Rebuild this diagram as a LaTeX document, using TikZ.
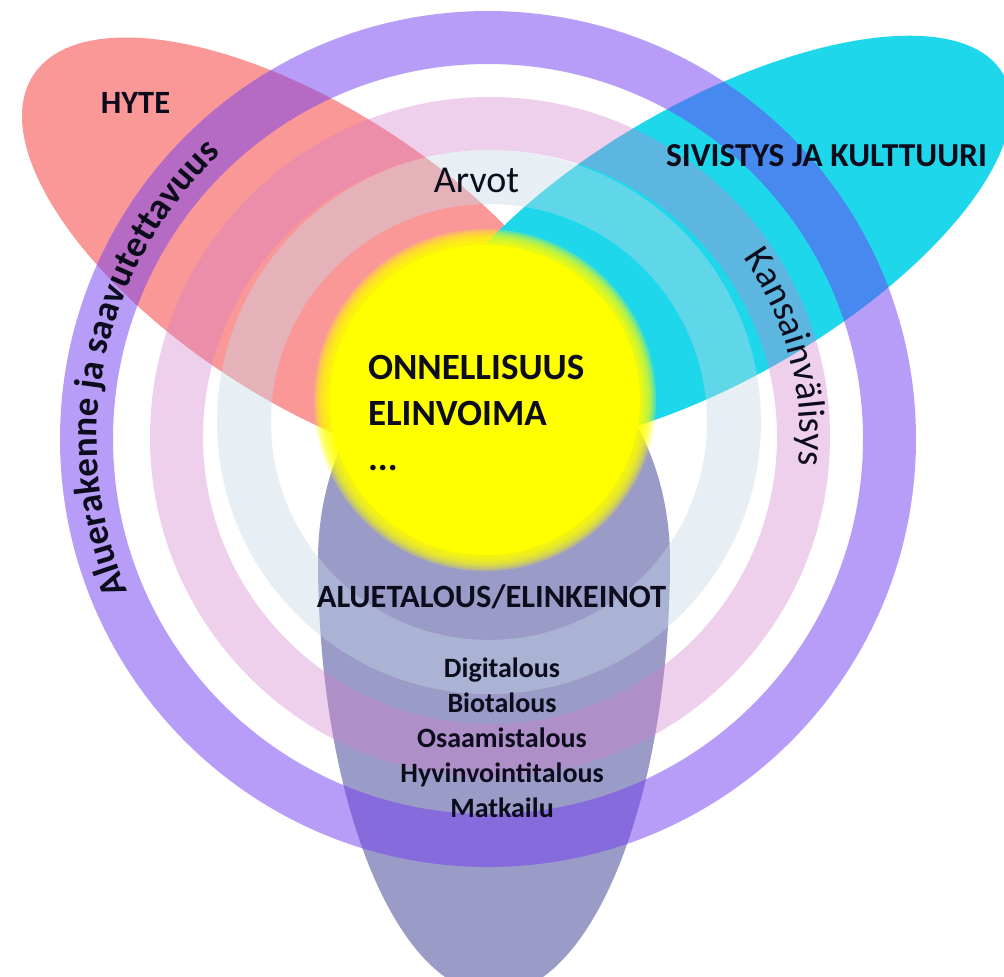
\documentclass[tikz,border=0pt]{standalone}
\usepackage{fontspec}
\setmainfont{Carlito}
\usetikzlibrary{decorations.text}
\definecolor{petalred}{RGB}{250,152,152}
\definecolor{petalcyan}{RGB}{30,215,235}
\definecolor{petallav}{RGB}{155,155,200}
\definecolor{ringpurple}{RGB}{113,61,241}
\definecolor{ringpink}{RGB}{212,121,201}
\definecolor{ringgray}{RGB}{197,217,232}
\definecolor{sun}{RGB}{255,255,0}
\definecolor{ink}{RGB}{12,12,28}
\begin{document}
\begin{tikzpicture}[x=1pt,y=1pt,
  lbl/.style={inner sep=0pt, outer sep=0pt, text=ink},
  bigb/.style={lbl, font=\fontsize{37}{37}\selectfont\bfseries},
  midb/.style={lbl, font=\fontsize{32.5}{32.5}\selectfont\bfseries},
  smallb/.style={lbl, font=\fontsize{28}{28}\selectfont\bfseries},
  bigr/.style={lbl, font=\fontsize{38}{38}\selectfont},
  ringfill/.style={even odd rule}]
\useasboundingbox (0,0) rectangle (1004,-977);
\coordinate (cpurple) at (488,-439);
\coordinate (cpink) at (490,-437);
\coordinate (cgray) at (489,-422);
\coordinate (csun) at (485,-400);
\begin{scope}
\clip (0,0) rectangle (1004,-977);
\fill[white] (0,0) rectangle (1004,-977);
% petals
\fill[petallav] (318,-560) arc[start angle=180, end angle=360, x radius=176, y radius=434]
  arc[start angle=0, end angle=180, x radius=176, y radius=230] -- cycle;
\fill[petalred, rotate around={-33:(310,-255)}] (310,-255) ellipse[x radius=330, y radius=146];
\fill[petalcyan, rotate around={30:(713,-241.5)}] (713,-241.5) ellipse[x radius=335, y radius=138];
% rings
\fill[ringgray, fill opacity=0.4, ringfill] (cgray) circle[radius=272] (cgray) circle[radius=218];
\fill[ringpink, fill opacity=0.35, ringfill] (cpink) circle[radius=340] (cpink) circle[radius=287];
\fill[ringpurple, fill opacity=0.5, ringfill] (cpurple) circle[radius=428] (cpurple) circle[radius=375];
% sun with soft edge
\foreach \r in {171,169,...,155} { \fill[sun, fill opacity=0.25] (csun) circle[radius=\r]; }
\fill[sun] (csun) circle[radius=155];
\end{scope}
% labels
\node[midb, anchor=base] (hyte) at (135.5,-113) {HYTE};
\node[bigr, anchor=base] (arvot) at (476.5,-192) {Arvot};
\node[lbl, font=\fontsize{33.5}{33.5}\selectfont\bfseries, anchor=base] (sivistys) at (826.5,-166) {SIVISTYS JA KULTTUURI};
\node[bigb, anchor=base west] (onn) at (368,-379) {ONNELLISUUS};
\node[bigb, anchor=base west] (elin) at (368,-425) {ELINVOIMA};
\node[bigb, anchor=base west] (dots) at (368,-470) {...};
\node[midb, anchor=base] (alue) at (491.5,-607) {ALUETALOUS/ELINKEINOT};
\node[smallb, anchor=base] (digi) at (502,-677) {Digitalous};
\node[smallb, anchor=base] (bio) at (502,-712) {Biotalous};
\node[smallb, anchor=base] (osaa) at (502,-747) {Osaamistalous};
\node[smallb, anchor=base] (hyvi) at (502,-782) {Hyvinvointitalous};
\node[smallb, anchor=base] (matk) at (502,-817) {Matkailu};
% curved labels
\path[decorate, decoration={text along path, text align=center,
  text={|\fontsize{37}{37}\selectfont\bfseries\color{ink}|Aluerakenne ja saavutettavuus}}]
  ([shift={(215:391)}]cpurple) arc[start angle=215, end angle=121, radius=391];
\path[decorate, decoration={text along path, text align=center,
  text={|\fontsize{38}{38}\selectfont\color{ink}|Kansainvälisys}}]
  ([shift={(60:310)}]cpink) arc[start angle=60, end angle=-30, radius=310];
\end{tikzpicture}
\end{document}
